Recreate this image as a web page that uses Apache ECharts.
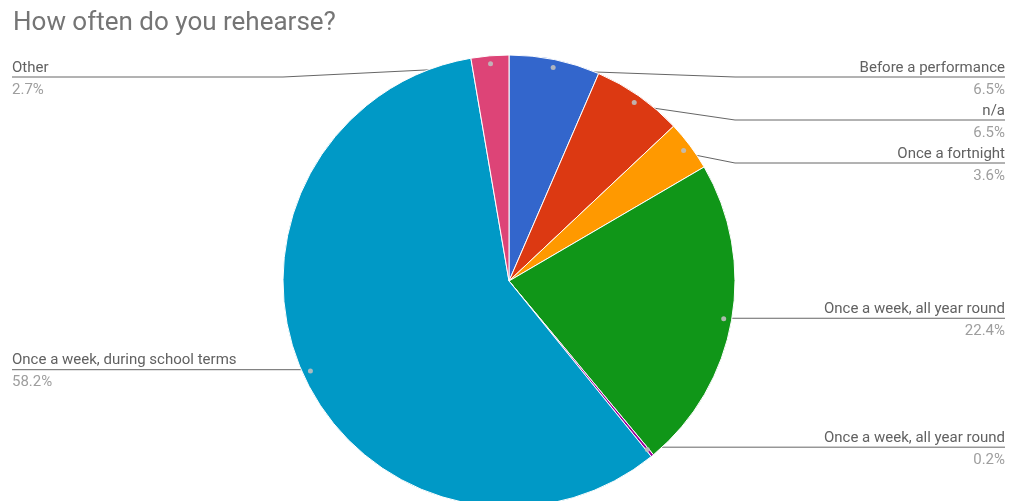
<!DOCTYPE html>
<html>
<head>
<meta charset="utf-8">
<script src="https://cdn.jsdelivr.net/npm/echarts@6/dist/echarts.min.js"></script>
<style>
  html, body { margin: 0; padding: 0; background: #ffffff; }
  #chart { width: 1012px; height: 501px; }
</style>
</head>
<body>
<div id="chart"></div>
<script>
// Answers, clockwise from 12 o'clock, with their share of responses (%)
const categories = [
  'Before a performance',
  'n/a',
  'Once a fortnight',
  'Once a week, all year round',
  'Once a week, all year round',
  'Once a week, during school terms',
  'Other'
];
const shares = [6.5, 6.5, 3.6, 22.4, 0.2, 58.2, 2.7];
const sliceColors = ['#3366cc', '#dc3912', '#ff9900', '#109618', '#990099', '#0099c6', '#dd4477'];

// Pie frame: the label area spans the box, the pie sits inside it
const box = { left: 12, right: 7, top: 55, bottom: 0 };
const radius = 226;
const cx = 509;
const cy = 281;
const centerInBox = [cx - box.left, cy - box.top];
const dotRadius = 215;          // leader lines start at this radius

// two-line labels: name above the leader line, share below it
const nameLineHeight = 18;
const shareLineHeight = 26;
const labelShift = (nameLineHeight + shareLineHeight) / 2 - nameLineHeight;
const labelGap = 43;            // minimum distance between two leader lines on a side
const labelTop = 77;            // highest leader line

// Leader-line heights: each starts level with its slice's mid-angle anchor,
// then labels on the same side are pushed down until they no longer collide.
const total = shares.reduce((a, b) => a + b, 0);
const anchors = [];
let acc = 0;
shares.forEach((v) => {
  const mid = (acc + v / 2) / total * 2 * Math.PI;
  acc += v;
  anchors.push({ y: cy - dotRadius * Math.cos(mid), right: Math.sin(mid) >= 0 });
});
const lineY = new Array(shares.length);
[true, false].forEach((side) => {
  const idx = anchors.map((a, i) => i).filter(i => anchors[i].right === side);
  idx.sort((a, b) => anchors[a].y - anchors[b].y);
  let last = -Infinity;
  idx.forEach((i) => {
    const y = Math.max(anchors[i].y, last + labelGap, labelTop);
    lineY[i] = y;
    last = y;
  });
});

const font = 'Roboto, "Noto Sans", sans-serif';
const pieData = categories.map((name, i) => ({
  name: name,
  value: shares[i],
  itemStyle: { color: sliceColors[i] }
}));

const chart = echarts.init(document.getElementById('chart'));
chart.setOption({
  animation: false,
  backgroundColor: '#ffffff',
  title: {
    text: 'How often do you rehearse?',
    left: 8,
    top: 5,
    textStyle: { fontFamily: font, fontSize: 26, fontWeight: 'normal', color: '#757575' }
  },
  series: [
    {
      type: 'pie',
      left: box.left, right: box.right, top: box.top, bottom: box.bottom,
      center: centerInBox,
      radius: [0, radius],
      startAngle: 90,
      clockwise: true,
      avoidLabelOverlap: false,
      data: pieData,
      itemStyle: { borderColor: '#ffffff', borderWidth: 1 },
      emphasis: { disabled: true },
      label: {
        show: true,
        position: 'outside',
        alignTo: 'edge',
        edgeDistance: 0,
        formatter: (p) => '{n|' + p.name + '}\n{p|' + p.value.toFixed(1) + '%}',
        rich: {
          n: { fontFamily: font, fontSize: 15, lineHeight: nameLineHeight, color: '#616161' },
          p: { fontFamily: font, fontSize: 15, lineHeight: shareLineHeight, color: '#9e9e9e' }
        }
      },
      labelLine: {
        show: true,
        length: dotRadius - radius,
        length2: 0,
        smooth: false,
        lineStyle: { color: '#666666', width: 1 }
      },
      labelLayout: function (params) {
        const pts = params.labelLinePoints;
        if (!pts) return {};
        const r = params.labelRect;
        const onLeft = r.x + r.width / 2 < cx;
        const y = lineY[params.dataIndex];
        const ax = pts[0][0] - cx;
        const ay = pts[0][1] - cy;
        const len = Math.hypot(ax, ay) || 1;
        const start = [cx + ax / len * dotRadius, cy + ay / len * dotRadius];
        const bend = [onLeft ? cx - radius : cx + radius, y];
        const end = [onLeft ? r.x : r.x + r.width, y];
        return { y: y + labelShift, labelLinePoints: [start, bend, end] };
      }
    },
    {
      // small markers where each leader line leaves its slice
      type: 'pie',
      silent: true,
      left: box.left, right: box.right, top: box.top, bottom: box.bottom,
      center: centerInBox,
      radius: [2 * dotRadius - radius, radius],
      startAngle: 90,
      clockwise: true,
      data: pieData.map(d => ({ name: d.name, value: d.value })),
      itemStyle: { color: 'rgba(0,0,0,0)', borderWidth: 0 },
      emphasis: { disabled: true },
      label: {
        show: true,
        position: 'inside',
        formatter: '{dot| }',
        rich: {
          dot: { width: 5, height: 5, lineHeight: 5, borderRadius: 2.5, backgroundColor: 'rgba(190,190,190,0.9)' }
        }
      },
      labelLine: { show: false }
    }
  ]
});
</script>
</body>
</html>
